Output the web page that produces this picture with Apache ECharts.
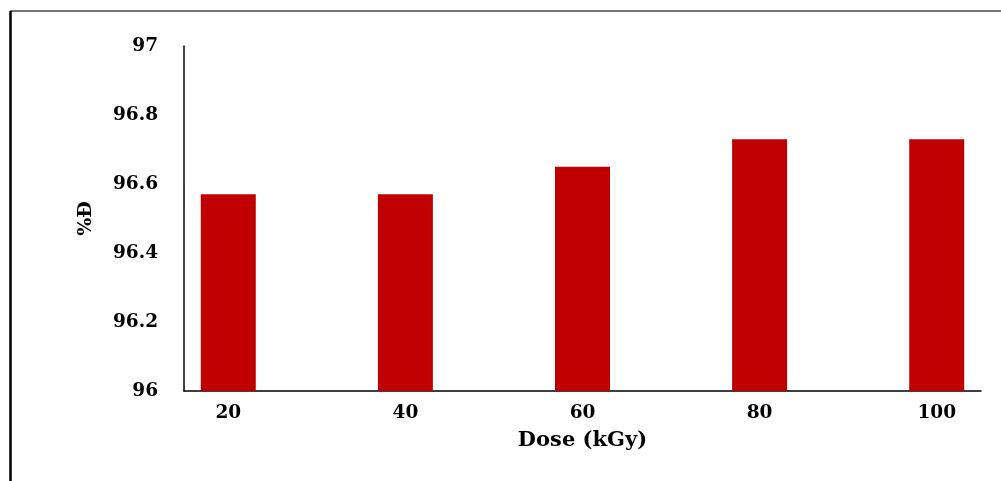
<!DOCTYPE html>
<html>
<head>
<meta charset="utf-8">
<script src="https://cdn.jsdelivr.net/npm/echarts@6/dist/echarts.min.js"></script>
<style>
html,body{margin:0;padding:0;background:#fff;}
#chart{width:1001px;height:481px;}
</style>
</head>
<body>
<div id="chart"></div>
<script>
const doses = [20, 40, 60, 80, 100];
const values = [96.57, 96.57, 96.65, 96.73, 96.73];
const yTicks = [96, 96.2, 96.4, 96.6, 96.8, 97];

const font = 'DejaVu Serif';
const chart = echarts.init(document.getElementById('chart'), null, {renderer: 'canvas'});
chart.setOption({
  animation: false,
  backgroundColor: '#ffffff',
  grid: {left: 184, right: 20, top: 46, bottom: 90},
  xAxis: {
    type: 'value',
    min: 15, max: 105,
    name: 'Dose (kGy)',
    nameLocation: 'middle',
    nameGap: 39,
    nameTextStyle: {fontFamily: font, fontWeight: 'bold', fontSize: 21, color: '#000'},
    axisLine: {show: true, lineStyle: {color: '#000', width: 1.5}},
    axisTick: {show: false},
    splitLine: {show: false},
    axisLabel: {
      customValues: doses,
      margin: 13,
      fontFamily: font, fontWeight: 'bold', fontSize: 18.5, color: '#000'
    }
  },
  yAxis: {
    type: 'value',
    min: 96, max: 97, interval: 0.2,
    name: '%Đ',
    nameLocation: 'middle',
    nameRotate: 90,
    nameGap: 88,
    nameTextStyle: {fontFamily: font, fontWeight: 'bold', fontSize: 19, color: '#000'},
    axisLine: {show: true, lineStyle: {color: '#000', width: 1.5}},
    axisTick: {show: false},
    splitLine: {show: false},
    axisLabel: {
      margin: 26,
      fontFamily: font, fontWeight: 'bold', fontSize: 18.5, color: '#000',
      formatter: v => String(+v.toFixed(1))
    }
  },
  series: [{
    type: 'bar',
    barWidth: 55,
    itemStyle: {color: '#C00000'},
    data: doses.map((d, i) => [d, values[i]])
  }],
  graphic: [
    {type: 'line', shape: {x1: 10, y1: 11, x2: 1001, y2: 11}, style: {stroke: '#444', lineWidth: 1.5}},
    {type: 'line', shape: {x1: 10.5, y1: 11, x2: 10.5, y2: 481}, style: {stroke: '#000', lineWidth: 2.5}}
  ]
});
</script>
</body>
</html>
